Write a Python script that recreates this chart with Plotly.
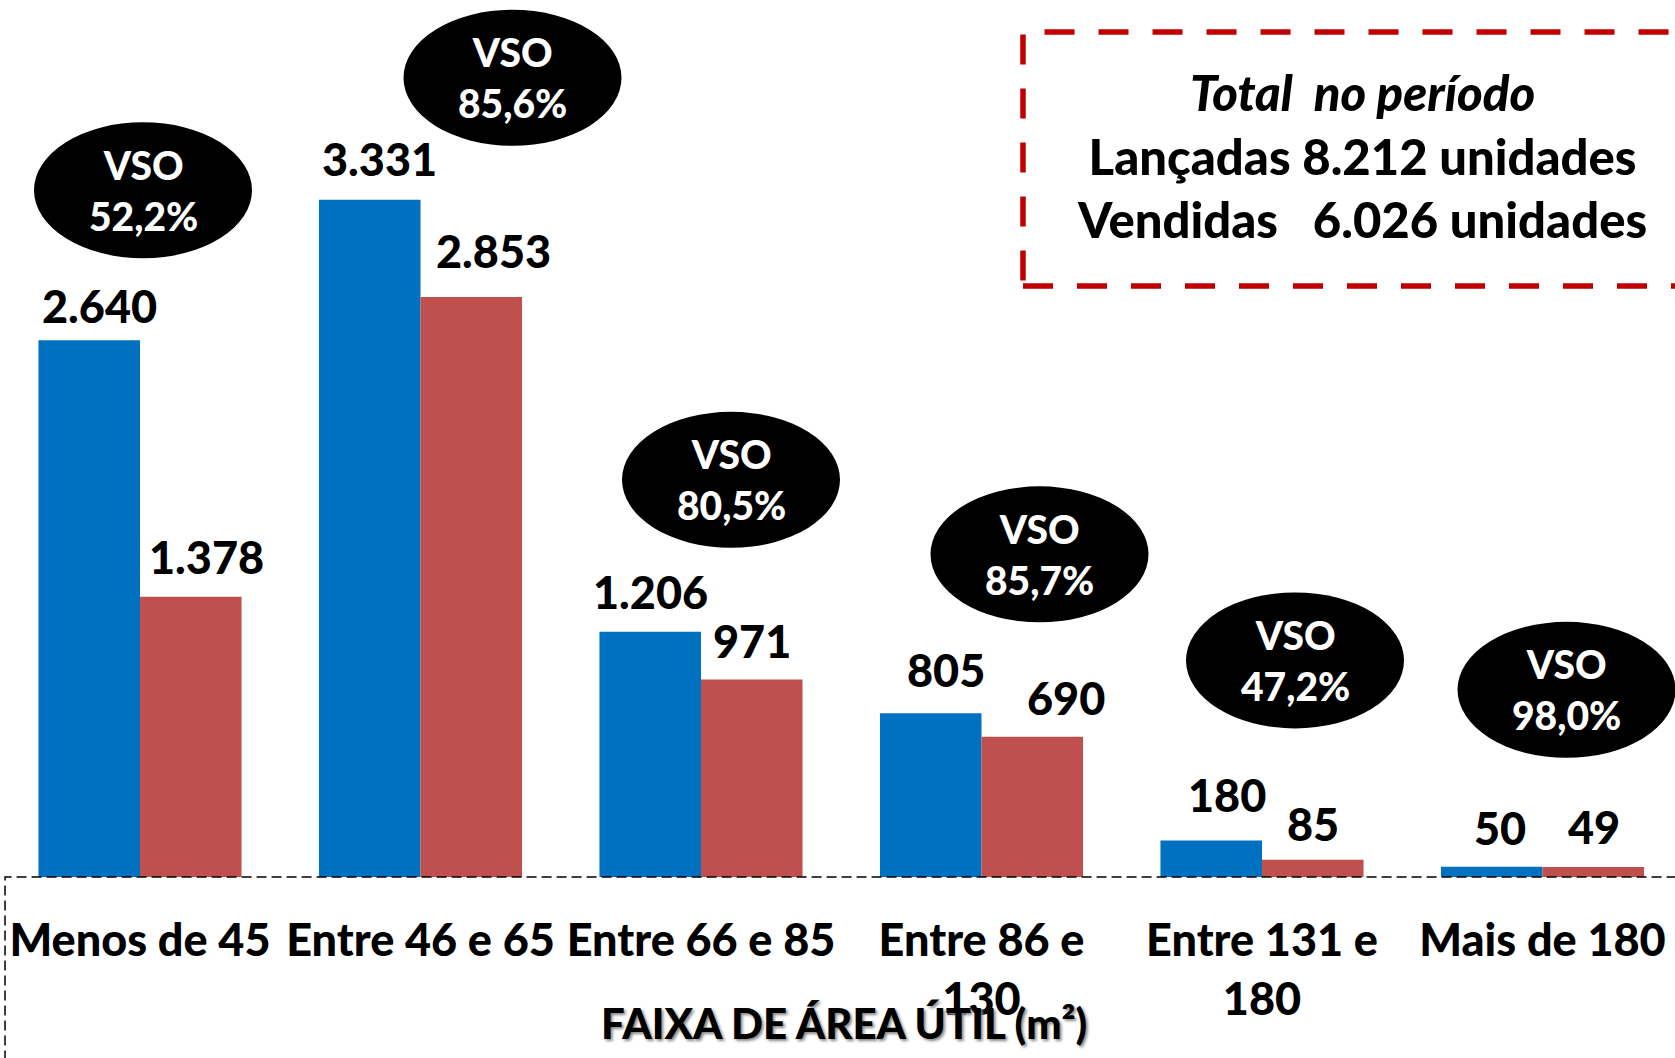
import plotly.graph_objects as go

categorias = ['Menos de 45', 'Entre 46 e 65', 'Entre 66 e 85',
              'Entre 86 e<br>130', 'Entre 131 e<br>180', 'Mais de 180']
lancadas = [2640, 3331, 1206, 805, 180, 50]
vendidas = [1378, 2853, 971, 690, 85, 49]
vso = ['52,2%', '85,6%', '80,5%', '85,7%', '47,2%', '98,0%']

FONT = 'Lato, Carlito, Calibri, sans-serif'
PESO = 900
AZUL = '#0070C0'
VERM = '#C0504D'

def fmt(v):
    return '{:,}'.format(v).replace(',', '.')

x_idx = list(range(len(categorias)))

fig = go.Figure()
fig.add_trace(go.Bar(x=x_idx, y=lancadas, name='Lançadas', marker=dict(color=AZUL, line=dict(width=0))))
fig.add_trace(go.Bar(x=x_idx, y=vendidas, name='Vendidas', marker=dict(color=VERM, line=dict(width=0))))

# ajuste fino (px) dos rotulos, como no slide original
aj_lanc = [(10, 34), (10, 41), (0, 40), (15, 43), (16, 45), (8, 39)]
aj_vend = [(15, 40), (22, 46), (0, 39), (33, 39), (0, 36), (0, 40)]

annots = []
for i in x_idx:
    annots.append(dict(x=i, y=lancadas[i], text=fmt(lancadas[i]), showarrow=False,
                       xshift=-51 + aj_lanc[i][0], yshift=aj_lanc[i][1], yanchor='middle',
                       font=dict(family=FONT, size=45, color='black', weight=PESO)))
    annots.append(dict(x=i, y=vendidas[i], text=fmt(vendidas[i]), showarrow=False,
                       xshift=51 + aj_vend[i][0], yshift=aj_vend[i][1], yanchor='middle',
                       font=dict(family=FONT, size=45, color='black', weight=PESO)))

# baloes VSO (deslocamento em px a partir do topo da barra azul)
desloc = [(3, 150), (92, 122), (30, 152), (58, 159), (33, 180), (24, 177)]
shapes = []
for i, (dx, dy) in enumerate(desloc):
    shapes.append(dict(type='circle', xref='x', yref='y', xsizemode='pixel', ysizemode='pixel',
                       xanchor=i, yanchor=lancadas[i],
                       x0=dx - 109, x1=dx + 109, y0=dy - 68, y1=dy + 68,
                       fillcolor='black', line=dict(width=0), layer='above'))
    annots.append(dict(x=i, y=lancadas[i], text='VSO<br>' + vso[i], showarrow=False,
                       xshift=dx, yshift=dy, yanchor='middle',
                       font=dict(family=FONT, size=39, color='white', weight=PESO)))

# caixa tracejada (eixo)
shapes.append(dict(type='rect', xref='paper', yref='paper', x0=0.003, x1=1.01, y0=-0.3, y1=0,
                   line=dict(color='black', width=1.5, dash='10px,5px'), layer='above'))
# caixa vermelha com totais
shapes.append(dict(type='rect', xref='paper', yref='paper', x0=1023 / 1675, x1=1.05,
                   y0=(877 - 286) / 877, y1=(877 - 32) / 877,
                   line=dict(color='#C00000', width=5.5, dash='30px,24px')))
annots.append(dict(xref='paper', yref='paper', x=1362 / 1675, y=(877 - 155) / 877,
                   text='<i>Total\u00a0 no período</i><br>Lançadas 8.212 unidades<br>Vendidas\u00a0\u00a0 6.026 unidades',
                   showarrow=False, align='center', xanchor='center', yanchor='middle',
                   font=dict(family=FONT, size=49, color='black', weight=PESO)))
annots.append(dict(xref='paper', yref='paper', x=844 / 1675, y=(877 - 1023) / 877,
                   text='FAIXA DE ÁREA ÚTIL (m²)', showarrow=False, xanchor='center', yanchor='middle',
                   font=dict(family=FONT, size=42, color='black', weight=PESO,
                             shadow='2px 2px 3px #888')))

fig.update_layout(
    width=1675, height=1058,
    margin=dict(l=0, r=0, t=0, b=181),
    plot_bgcolor='white', paper_bgcolor='white',
    barmode='group', bargap=0.276, bargroupgap=0,
    showlegend=False,
    shapes=shapes, annotations=annots,
    xaxis=dict(tickmode='array', tickvals=x_idx, ticktext=categorias,
               range=[-140 / 280.5, -140 / 280.5 + 1675 / 280.5],
               showgrid=False, zeroline=False, showline=False, ticks='',
               ticklabelstandoff=33,
               tickfont=dict(family=FONT, size=45, color='black', weight=PESO)),
    yaxis=dict(range=[0, 877 / 0.2033], visible=False, showgrid=False, zeroline=False),
)

fig.write_html('out.html', config={'displayModeBar': False},
               post_script="document.body.style.margin='0';")
